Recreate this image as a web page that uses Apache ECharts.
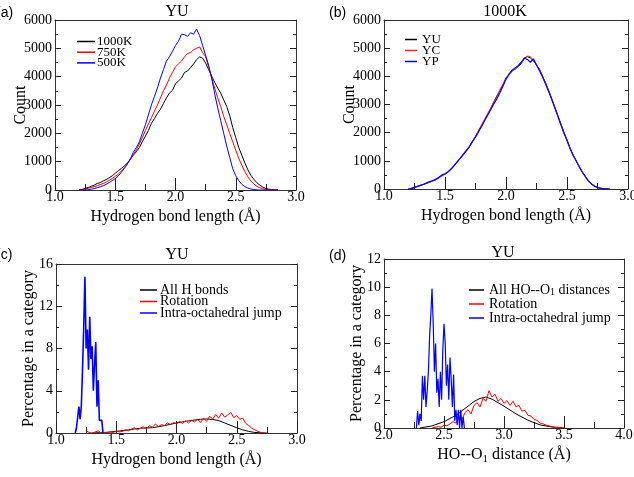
<!DOCTYPE html>
<html>
<head>
<meta charset="utf-8">
<script src="https://cdn.jsdelivr.net/npm/echarts@6/dist/echarts.min.js"></script>
<style>
  html, body { margin: 0; padding: 0; background: #fff; }
  #chart { width: 634px; height: 477px; }
</style>
</head>
<body>
<div id="chart"></div>
<script>
// (a) and (b) share the same bond-length bins
const hbX = [1.200,1.225,1.250,1.275,1.300,1.325,1.350,1.375,1.400,1.425,1.450,1.475,1.500,1.525,1.550,1.575,1.600,1.625,1.650,1.675,1.700,1.725,1.750,1.775,1.800,1.825,1.850,1.875,1.900,1.925,1.950,1.975,2.000,2.025,2.050,2.075,2.100,2.125,2.150,2.175,2.200,2.225,2.250,2.275,2.300,2.325,2.350,2.375,2.400,2.425,2.450,2.475,2.500,2.525,2.550,2.575,2.600,2.625,2.650,2.675,2.700,2.725,2.750,2.775,2.800,2.825,2.850]

// (a) YU at three temperatures
const a1000K = [0,20,60,90,130,170,230,260,320,370,430,500,590,680,760,850,950,1080,1230,1350,1500,1700,1900,2100,2350,2520,2700,2850,3050,3250,3420,3520,3750,3850,3950,4150,4200,4320,4450,4600,4700,4650,4480,4250,4020,3800,3600,3420,3180,2950,2620,2200,1850,1500,1230,960,720,520,380,260,170,100,55,30,15,5,0]
const a750K = [0,0,30,60,90,120,150,190,230,280,340,410,480,560,660,780,920,1080,1250,1420,1620,1850,2100,2330,2550,2780,3000,3250,3500,3700,3950,4150,4350,4450,4550,4700,4820,4850,4950,5000,5050,4850,4700,4350,3950,3600,3250,2950,2600,2300,2000,1700,1400,1120,880,650,470,320,210,130,80,40,20,5,0,0,0]
const a500K = [0,0,0,10,30,50,80,110,150,200,260,330,400,500,620,760,920,1100,1330,1500,1700,2000,2300,2650,3000,3300,3600,3950,4250,4550,4700,4900,5100,5250,5500,5480,5420,5550,5500,5680,5450,5100,4750,4400,3950,3400,2900,2450,2000,1550,1150,750,500,330,200,120,70,35,15,5,0,0,0,0,0,0,0]

// (b) three compounds at 1000K
const bYU = [0,30,70,100,130,160,200,240,290,330,400,480,530,600,700,820,950,1080,1220,1350,1500,1680,1850,2050,2250,2450,2650,2850,3100,3300,3500,3700,3950,4050,4200,4250,4350,4450,4650,4700,4650,4550,4400,4250,4000,3750,3500,3200,2900,2600,2300,2000,1750,1450,1200,1000,800,600,450,300,180,110,60,30,15,5,0]
const bYC = [0,20,60,100,140,170,210,250,280,320,390,460,520,620,720,840,960,1080,1200,1350,1520,1700,1870,2080,2280,2480,2680,2880,3080,3280,3520,3720,3920,4050,4180,4280,4380,4480,4600,4720,4700,4560,4420,4230,4000,3770,3480,3200,2920,2620,2320,2020,1730,1450,1210,990,800,610,450,300,190,110,60,30,10,0,0]
const bYP = [0,10,50,90,130,170,220,260,300,350,420,500,540,610,710,830,970,1100,1240,1370,1500,1680,1850,2030,2220,2430,2620,2820,3020,3200,3420,3650,3900,4080,4220,4300,4380,4500,4650,4600,4500,4620,4400,4200,3980,3720,3460,3180,2880,2580,2280,1980,1720,1440,1200,1000,790,600,440,290,180,100,50,20,10,5,0]

// (c) percentage in a category vs H bond length
const cAllX = [1.30,1.40,1.50,1.60,1.70,1.80,1.90,2.00,2.10,2.20,2.25,2.30,2.35,2.40,2.50,2.55,2.60,2.65,2.70,2.75]
const cAll = [0,0.05,0.15,0.3,0.45,0.5,0.7,0.95,1.15,1.3,1.33,1.28,1.18,0.95,0.5,0.3,0.15,0.05,0.02,0]
const cRotX = [1.250,1.275,1.300,1.325,1.350,1.375,1.400,1.425,1.450,1.475,1.500,1.525,1.550,1.575,1.600,1.625,1.650,1.675,1.700,1.725,1.750,1.775,1.800,1.825,1.850,1.875,1.900,1.925,1.950,1.975,2.000,2.025,2.050,2.075,2.100,2.125,2.150,2.175,2.200,2.225,2.250,2.275,2.300,2.325,2.350,2.375,2.400,2.425,2.450,2.475,2.500,2.525,2.550,2.575,2.600,2.625,2.650,2.675,2.700,2.725]
const cRot = [0.2,0.05,0,0.1,0.2,0,0.05,0,0.1,0.05,0.2,0.1,0.15,0.3,0.2,0.35,0.5,0.3,0.45,0.6,0.4,0.7,0.55,0.85,0.6,0.8,0.7,0.95,0.8,1.0,0.85,1.1,0.9,1.15,0.95,1.2,1.05,1.3,1.0,1.4,1.1,1.6,1.3,1.75,1.4,1.9,1.5,1.7,1.95,1.45,1.65,1.3,1.4,0.9,0.7,0.45,0.3,0.15,0.05,0]
const cJumpX = [1.16,1.17,1.18,1.19,1.20,1.21,1.22,1.23,1.24,1.25,1.26,1.27,1.28,1.29,1.30,1.31,1.32,1.33,1.34,1.35,1.36,1.37,1.38,1.39]
const cJump = [0,0.5,1.5,2.5,1.3,2.5,6.0,10.0,14.8,8.0,9.8,6.0,11.0,7.0,8.2,4.0,6.5,8.6,2.5,5.0,1.2,1.2,1.2,0]

// (d) percentage in a category vs HO--O1 distance
const dAllX = [2.30,2.40,2.50,2.60,2.70,2.75,2.80,2.85,2.90,3.00,3.10,3.20,3.30,3.40,3.50]
const dAll = [0,0.15,0.45,0.9,1.55,1.88,2.1,2.2,2.05,1.55,1.0,0.55,0.22,0.07,0]
const dRotX = [2.400,2.425,2.450,2.475,2.500,2.525,2.550,2.575,2.600,2.625,2.650,2.675,2.700,2.725,2.750,2.775,2.800,2.825,2.850,2.875,2.900,2.925,2.950,2.975,3.000,3.025,3.050,3.075,3.100,3.125,3.150,3.175,3.200,3.225,3.250,3.275,3.300,3.325,3.350,3.375,3.400,3.425,3.450,3.475,3.500]
const dRot = [0,0.05,0.1,0.05,0.2,0.15,0.3,0.45,0.35,0.8,0.6,1.1,1.3,1.0,1.6,1.8,1.5,2.1,1.9,2.65,2.2,2.4,1.9,2.1,1.75,1.95,1.6,1.9,1.5,1.6,1.2,1.25,0.9,0.85,0.6,0.55,0.35,0.3,0.2,0.15,0.1,0.05,0.05,0,0.02]
const dJumpX = [2.27,2.28,2.29,2.30,2.31,2.32,2.33,2.34,2.35,2.36,2.37,2.38,2.39,2.40,2.41,2.42,2.43,2.44,2.45,2.46,2.47,2.48,2.49,2.50,2.51,2.52,2.53,2.54,2.55,2.56,2.57,2.58,2.59,2.60,2.61,2.62,2.63,2.64,2.65,2.66,2.67]
const dJump = [0,1.2,0.2,1.0,0.5,3.7,2.0,3.7,1.5,2.6,4.0,6.5,8.0,9.9,7.5,4.0,6.0,2.5,3.5,1.5,4.0,2.0,5.5,7.4,6.0,3.0,4.5,2.0,5.0,3.5,1.5,3.8,0.5,1.3,0.2,1.3,0,1.3,0,0.8,0]

const serif = '"Liberation Serif", "Times New Roman", serif'
const sans = '"Liberation Sans", Arial, sans-serif'

const pairs = (xs, ys) => xs.map((x, i) => [x, ys[i]])

const panels = [
  { left: 55, top: 20, width: 241, height: 170 },
  { left: 384, top: 20, width: 244, height: 169 },
  { left: 56, top: 264, width: 241, height: 169 },
  { left: 384, top: 259, width: 240, height: 169 }
]

const subRich = (size, lh) => ({ sub: { fontFamily: serif, fontSize: size, lineHeight: lh, verticalAlign: 'bottom', color: '#000' } })

const gridList = []
const xAxis = []
const yAxis = []
const mainX = []
const mainY = []

const frameLine = { show: true, onZero: false, lineStyle: { color: '#333', width: 1 } }
const off = { splitLine: { show: false }, minorSplitLine: { show: false } }

function valueAxis (gridIndex, min, max, interval, extra) {
  return {
    gridIndex, type: 'value', min, max, interval,
    axisLine: { show: false }, axisTick: { show: false }, minorTick: { show: false },
    axisLabel: { show: false }, ...off, ...extra
  }
}

// ticks point into the frame: they are drawn outward from a slightly smaller grid
function tickAxes (G, len, xr, yr) {
  const tick = { show: true, inside: false, length: len, lineStyle: { color: '#222', width: 1 } }
  const minor = { show: len === 3, splitNumber: 2, length: len, lineStyle: { color: '#222', width: 1 } }
  const hi = gridList.length
  gridList.push({ left: G.left, width: G.width, top: G.top + len, height: G.height - 2 * len })
  for (const position of ['top', 'bottom']) {
    xAxis.push(valueAxis(hi, xr[0], xr[1], xr[2], { position, axisTick: tick, minorTick: minor }))
  }
  yAxis.push({ gridIndex: hi, type: 'value', show: false })
  const vi = gridList.length
  gridList.push({ left: G.left + len, width: G.width - 2 * len, top: G.top, height: G.height })
  for (const position of ['left', 'right']) {
    yAxis.push(valueAxis(vi, yr[0], yr[1], yr[2], { position, axisTick: tick, minorTick: minor }))
  }
  xAxis.push({ gridIndex: vi, type: 'value', show: false })
}

function addPanel (p, xr, yr, xName, yName, yGap, rich) {
  const G = panels[p]
  const gi = gridList.length
  gridList.push(G)
  mainX.push(xAxis.length)
  xAxis.push(valueAxis(gi, xr[0], xr[1], xr[2], {
    position: 'bottom', axisLine: frameLine,
    name: xName, nameLocation: 'middle', nameGap: 17, nameMoveOverlap: false,
    nameTextStyle: { fontFamily: serif, fontSize: 16, color: '#000', lineHeight: 20, rich: rich || {} },
    axisLabel: { show: true, margin: 0, fontFamily: serif, fontSize: 14, color: '#000', formatter: v => v.toFixed(1) }
  }))
  xAxis.push(valueAxis(gi, xr[0], xr[1], xr[2], { position: 'top', axisLine: frameLine }))
  mainY.push(yAxis.length)
  yAxis.push(valueAxis(gi, yr[0], yr[1], yr[2], {
    position: 'left', axisLine: frameLine,
    name: yName, nameLocation: 'middle', nameRotate: 90, nameGap: yGap, nameMoveOverlap: false,
    nameTextStyle: { fontFamily: serif, fontSize: 16, color: '#000' },
    axisLabel: { show: true, margin: 3, fontFamily: serif, fontSize: 14, color: '#000', formatter: v => String(v) }
  }))
  yAxis.push(valueAxis(gi, yr[0], yr[1], yr[2], { position: 'right', axisLine: frameLine }))
  tickAxes(G, 6, xr, yr)
  tickAxes(G, 3, xr, yr)
}

addPanel(0, [1.0, 3.0, 0.5], [0, 6000, 1000], 'Hydrogen bond length (Å)', 'Count', 26)
addPanel(1, [1.0, 3.0, 0.5], [0, 6000, 1000], 'Hydrogen bond length (Å)', 'Count', 26)
addPanel(2, [1.0, 3.0, 0.5], [0, 16, 4], 'Hydrogen bond length (Å)', 'Percentage in a category', 19)
addPanel(3, [2.0, 4.0, 0.5], [0, 12, 2], 'HO--O{sub|1} distance (Å)', 'Percentage in a category', 19, subRich(11, 8))

function line (name, p, data, color, width) {
  return {
    name, type: 'line', xAxisIndex: mainX[p], yAxisIndex: mainY[p], data,
    symbol: 'none', showSymbol: false, animation: false,
    itemStyle: { color }, lineStyle: { color, width }
  }
}

const series = [
  line('1000K', 0, pairs(hbX, a1000K), '#000', 1),
  line('750K', 0, pairs(hbX, a750K), '#f00', 1),
  line('500K', 0, pairs(hbX, a500K), '#00f', 1),
  line('YU', 1, pairs(hbX, bYU), '#000', 1),
  line('YC', 1, pairs(hbX, bYC), '#f22', 1),
  line('YP', 1, pairs(hbX, bYP), '#00f', 1.2),
  line('All H bonds', 2, pairs(cAllX, cAll), '#000', 1),
  line('Rotation', 2, pairs(cRotX, cRot), '#f00', 1),
  line('Intra-octahedral jump', 2, pairs(cJumpX, cJump), '#00f', 1.6),
  line('All HO--O1 distances', 3, pairs(dAllX, dAll), '#000', 1),
  line('Rotation (d)', 3, pairs(dRotX, dRot), '#f00', 1),
  line('Intra-octahedral jump (d)', 3, pairs(dJumpX, dJump), '#00f', 1.2)
]

function legend (data, left, top, w, gap, size, pad) {
  return {
    data, left, top, padding: 0, orient: 'vertical', itemWidth: w, itemHeight: 1.5, itemGap: gap,
    icon: 'rect', selectedMode: false,
    formatter: n => n.replace(' (d)', '').replace('HO--O1', 'HO--O{sub|1}'),
    textStyle: { fontFamily: serif, fontSize: size, color: '#000', padding: [0, 0, 0, pad], rich: subRich(10, 8) }
  }
}

const titleText = (text, x, y) => ({ type: 'text', x, y, style: { text, font: '16px ' + serif, fill: '#000', align: 'center', verticalAlign: 'middle' } })
const tagText = (text, x, y) => ({ type: 'text', x, y, style: { text, font: '14px ' + sans, fill: '#000', align: 'left', verticalAlign: 'middle' } })

const chart = echarts.init(document.getElementById('chart'))
chart.setOption({
  animation: false,
  textStyle: { fontFamily: serif },
  grid: gridList.map(g => ({ ...g, containLabel: false, outerBoundsMode: 'none' })),
  xAxis,
  yAxis,
  legend: [
    legend(['1000K', '750K', '500K'], 77, 35, 18, -2.3, 13, -3),
    legend(['YU', 'YC', 'YP'], 405, 33, 12, -2, 13, 0),
    legend(['All H bonds', 'Rotation', 'Intra-octahedral jump'], 140, 283, 17, -2.5, 14, -2),
    legend(['All HO--O1 distances', 'Rotation (d)', 'Intra-octahedral jump (d)'], 469, 283, 15, 0, 14, 0)
  ],
  graphic: [
    titleText('YU', 177, 12),
    titleText('1000K', 505, 12),
    titleText('YU', 177, 255),
    titleText('YU', 503, 253),
    tagText('(a)', -4, 13),
    tagText('(b)', 329, 13),
    tagText('(c)', -4, 255),
    tagText('(d)', 329, 256)
  ],
  series
})
</script>
</body>
</html>
